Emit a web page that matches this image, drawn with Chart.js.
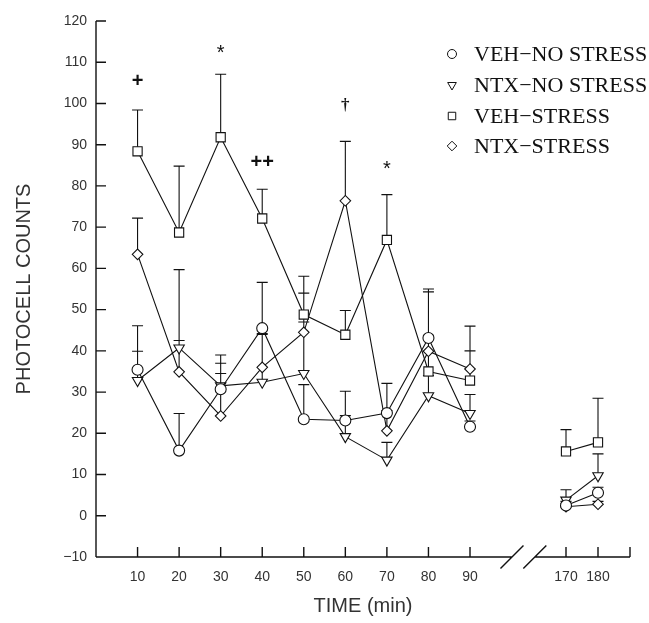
<!DOCTYPE html>
<html><head><meta charset="utf-8">
<script src="https://cdn.jsdelivr.net/npm/chart.js@4.4.0/dist/chart.umd.min.js"></script>
<style>html,body{margin:0;padding:0;background:#fff;}#wrap{width:649px;height:623px;}</style>
</head><body><div id="wrap"><canvas id="c" width="649" height="623"></canvas></div>
<script>
// ---- data ----
const timePoints = [10, 20, 30, 40, 50, 60, 70, 80, 90, 170, 180];
const seriesLabels = ['VEH\u2212NO STRESS', 'NTX\u2212NO STRESS', 'VEH\u2212STRESS', 'NTX\u2212STRESS'];
const vehNoStress    = [35.4, 15.8, 30.7, 45.5, 23.4, 23.1, 24.9, 43.1, 21.6, 2.5, 5.6];
const vehNoStressErr = [46.1, 24.8, 39.0, 56.6, 31.8, 30.2, 32.1, 55.0, 23.0, 3.5, 6.9];
const ntxNoStress    = [32.8, 40.7, 31.5, 32.4, 34.5, 19.2, 13.5, 29.1, 24.8, 3.8, 9.7];
const ntxNoStressErr = [39.9, 42.5, 34.5, 44.0, 47.0, 24.3, 17.8, 34.0, 29.4, 6.3, 15.0];
const vehStress      = [88.4, 68.7, 91.8, 72.1, 48.8, 43.9, 66.9, 35.0, 32.8, 15.6, 17.8];
const vehStressErr   = [98.4, 84.8, 107.1, 79.2, 58.1, 49.8, 77.9, 54.3, 40.0, 20.9, 28.5];
const ntxStress      = [63.4, 34.9, 24.2, 36.0, 44.5, 76.4, 20.6, 39.9, 35.6, 2.2, 2.8];
const ntxStressErr   = [72.2, 59.7, 37.0, 44.2, 54.0, 90.8, 25.5, 43.8, 46.0, 3.0, 3.5];
const yTicks = [-10, 0, 10, 20, 30, 40, 50, 60, 70, 80, 90, 100, 110, 120];
const xTickTimes = [10, 20, 30, 40, 50, 60, 70, 80, 90, 170, 180];
const sigMarks  = ['+', '*', '++', '\u2020', '*'];
const sigTimes  = [10, 30, 40, 60, 70];
const sigValues = [105.3, 113.0, 85.7, 99.5, 85.0];

// broken time axis: 10–90 linear, then 170–180 compressed after the break
function axisPos(t) { return t <= 90 ? t : 113.1 + (t - 170) * 0.77; }
const AXIS_MAX = 128.5;
const BREAK_A = 100.1, BREAK_B = 105.6;

const values = [vehNoStress, ntxNoStress, vehStress, ntxStress];
const errors = [vehNoStressErr, ntxNoStressErr, vehStressErr, ntxStressErr];
const styles = [
  {pointStyle: 'circle', radius: 5.5, rot: 0, lr: 4.5},
  {pointStyle: 'triangle', radius: 6, rot: 180, lr: 5},
  {pointStyle: 'rect', radius: 6.5, rot: 0, lr: 5.3},
  {pointStyle: 'rectRot', radius: 5.3, rot: 0, lr: 4.8}
];

const datasets = values.map((arr, i) => ({
  label: seriesLabels[i],
  data: arr.map((v, j) => ({x: axisPos(timePoints[j]), y: v})),
  borderColor: '#111',
  borderWidth: 1.1,
  pointStyle: styles[i].pointStyle,
  pointRadius: styles[i].radius,
  pointRotation: styles[i].rot,
  pointBackgroundColor: '#fff',
  pointBorderColor: '#111',
  pointBorderWidth: 1.1,
  fill: false,
  tension: 0,
  segment: {borderColor: ctx => (timePoints[ctx.p0DataIndex] === 90 ? 'rgba(0,0,0,0)' : '#111')}
}));

const decor = {
  id: 'decor',
  beforeDatasetsDraw(chart) {
    const {ctx, scales: {x, y}, chartArea: a} = chart;
    ctx.save();
    ctx.strokeStyle = '#111';
    ctx.lineWidth = 1.4;
    ctx.beginPath();
    ctx.moveTo(a.left, y.getPixelForValue(120)); ctx.lineTo(a.left, a.bottom);
    const b1 = x.getPixelForValue(BREAK_A), b2 = x.getPixelForValue(BREAK_B);
    ctx.moveTo(a.left, a.bottom); ctx.lineTo(b1, a.bottom);
    ctx.moveTo(b2, a.bottom); ctx.lineTo(a.right, a.bottom);
    [b1, b2].forEach(bx => { ctx.moveTo(bx - 11.5, a.bottom + 11.5); ctx.lineTo(bx + 11.5, a.bottom - 11.5); });
    yTicks.forEach(v => { if (v === -10) return; const py = y.getPixelForValue(v); ctx.moveTo(a.left, py); ctx.lineTo(a.left + 10, py); });
    xTickTimes.map(axisPos).concat([AXIS_MAX]).forEach(v => { const px = x.getPixelForValue(v); ctx.moveTo(px, a.bottom); ctx.lineTo(px, a.bottom - 10); });
    ctx.stroke();
    ctx.lineWidth = 1.1;
    ctx.beginPath();
    errors.forEach((earr, i) => {
      earr.forEach((e, j) => {
        const px = x.getPixelForValue(axisPos(timePoints[j]));
        const p0 = y.getPixelForValue(values[i][j]);
        const p1 = y.getPixelForValue(e);
        ctx.moveTo(px, p0); ctx.lineTo(px, p1);
        ctx.moveTo(px - 5.5, p1); ctx.lineTo(px + 5.5, p1);
      });
    });
    ctx.stroke();
    ctx.restore();
  },
  afterDatasetsDraw(chart) {
    const {ctx, scales: {x, y}} = chart;
    ctx.save();
    ctx.fillStyle = '#111';
    ctx.textAlign = 'center';
    ctx.textBaseline = 'middle';
    sigMarks.forEach((m, k) => {
      const px = x.getPixelForValue(axisPos(sigTimes[k]));
      const py = y.getPixelForValue(sigValues[k]);
      if (m === '*') { ctx.font = '20px "Liberation Sans"'; ctx.fillText(m, px, py + 4); }
      else if (m === '\u2020') { ctx.font = 'bold 17px "Liberation Serif"'; ctx.fillText(m, px, py); }
      else { ctx.font = 'bold 20px "Liberation Sans"'; ctx.fillText(m, px, py); }
    });
    const rows = [54, 85, 116, 146];
    ctx.textAlign = 'left';
    ctx.font = '22px "Liberation Serif"';
    chart.data.datasets.forEach((ds, i) => {
      ctx.lineWidth = 1;
      ctx.strokeStyle = '#111';
      ctx.fillStyle = '#fff';
      Chart.helpers.drawPoint(ctx, {pointStyle: styles[i].pointStyle, radius: styles[i].lr, rotation: styles[i].rot, borderWidth: 1}, 452, rows[i]);
      ctx.fillStyle = '#111';
      ctx.fillText(ds.label, 474, rows[i] + 1);
    });
    ctx.restore();
  }
};

new Chart(document.getElementById('c'), {
  type: 'line',
  data: {datasets},
  plugins: [decor],
  options: {
    responsive: false,
    animation: false,
    layout: {padding: {top: 21, right: 19, left: 0, bottom: 0}},
    plugins: {legend: {display: false}, tooltip: {enabled: false}},
    scales: {
      x: {
        type: 'linear', min: 0, max: AXIS_MAX,
        grid: {display: false, drawTicks: false}, border: {display: false},
        afterBuildTicks: s => { s.ticks = xTickTimes.map(t => ({value: axisPos(t)})); },
        afterFit: s => { s.height = 66; },
        ticks: {autoSkip: false, maxRotation: 0, padding: 12, color: '#333',
                font: {family: '"Liberation Sans"', size: 14},
                callback: (v, i) => String(xTickTimes[i])},
        title: {display: true, text: 'TIME (min)', color: '#333',
                font: {family: '"Liberation Sans"', size: 20}, padding: {top: 0, bottom: 5}}
      },
      y: {
        min: -10, max: 120,
        grid: {display: false, drawTicks: false}, border: {display: false},
        afterBuildTicks: s => { s.ticks = yTicks.map(v => ({value: v})); },
        afterFit: s => { s.width = 96; },
        ticks: {padding: 9, color: '#333', font: {family: '"Liberation Sans"', size: 14},
                callback: v => (v < 0 ? '\u2212' + Math.abs(v) : String(v))},
        title: {display: true, text: 'PHOTOCELL COUNTS', color: '#333',
                font: {family: '"Liberation Sans"', size: 20}, padding: {top: 12, bottom: 0}}
      }
    }
  }
});
</script></body></html>
